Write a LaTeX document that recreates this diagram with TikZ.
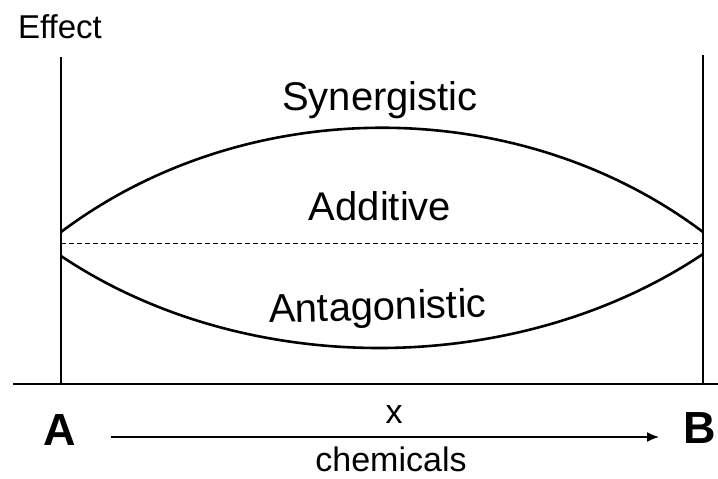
\documentclass[tikz,border=0pt]{standalone}
\usepackage{fontspec}
\setmainfont{Liberation Sans}
\usepackage{tikz}
\usetikzlibrary{arrows.meta,positioning}

\begin{document}
\begin{tikzpicture}[x=1pt, y=-1pt,
        curve/.style={line width=2.6pt},
        frame/.style={line width=1.5pt},
        zone/.style={font=\fontsize{40}{48}\selectfont, inner sep=0pt, anchor=base},
        axislabel/.style={font=\fontsize{34}{40}\selectfont, inner sep=0pt, anchor=base},
        endlabel/.style={font=\fontsize{45}{54}\selectfont\bfseries, inner sep=0pt, anchor=base}]
        \useasboundingbox (0,0) rectangle (718,479);

        \coordinate (Ltop) at (61,57);
        \coordinate (Lbot) at (61,384);
        \coordinate (Rtop) at (703,55);
        \coordinate (Rbot) at (703,384);
        \coordinate (Axl) at (13,384);
        \coordinate (Axr) at (718,384);
        \coordinate (Lsyn) at (61,232);
        \coordinate (Rsyn) at (703,232);
        \coordinate (Ladd) at (61,243);
        \coordinate (Radd) at (703,243);
        \coordinate (Lant) at (61,256);
        \coordinate (Rant) at (703,254);
        \coordinate (xstart) at (111,437);
        \coordinate (xend) at (659,437);

        \node (effect) [font=\fontsize{33}{40}\selectfont, inner sep=0pt, anchor=base] at (60,38) {Effect};
        \node (syn) [zone] at (380,110) {Synergistic};
        \node (add) [zone] at (380,220) {Additive};
        \node (ant) [zone, rotate=1.5] at (378,320) {Antagonistic};
        \node (A) [endlabel] at (60,445) {A};
        \node (B) [endlabel] at (700,443) {B};
        \node (x) [axislabel] at (394,423) {x};
        \node (chem) [axislabel] at (391,471) {chemicals};

        \draw[frame] (Ltop) -- (Lbot);
        \draw[frame] (Rtop) -- (Rbot);
        \draw[frame] (Axl) -- (Axr);
        \draw[line width=1pt, dash pattern=on 5pt off 3pt] (Ladd) -- (Radd);
        \draw[curve] (Lsyn) .. controls (246,93) and (518,93) .. (Rsyn);
        \draw[curve] (Lant) .. controls (246,380) and (518,378) .. (Rant);
        \draw[-{Latex[length=12pt,width=10pt]}, line width=1.4pt] (xstart) -- (xend);
    \end{tikzpicture}
\end{document}
